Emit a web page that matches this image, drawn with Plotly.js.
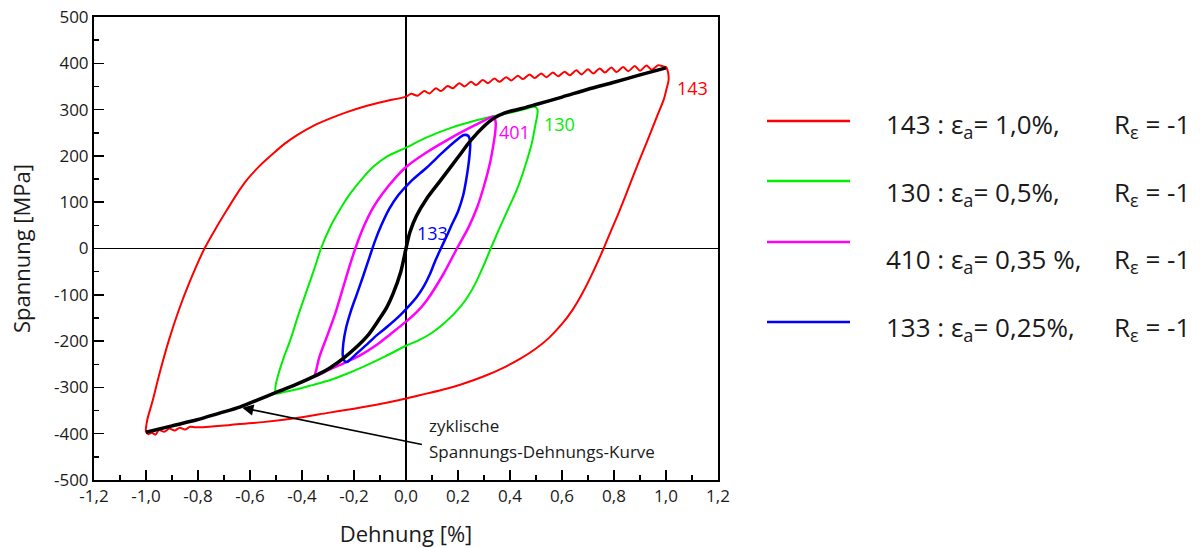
<!DOCTYPE html>
<html>
<head>
<meta charset="utf-8">
<script src="https://cdn.plot.ly/plotly-3.0.1.min.js"></script>
<style>
  html, body { margin: 0; padding: 0; background: #fff; }
  #chart { width: 1200px; height: 548px; }
</style>
</head>
<body>
<div id="chart"></div>
<script>
// Hysteresis loops (strain in %, stress in MPa)

// 143 : strain amplitude 1.0 %
const x143 = [-1.0, -0.995, -0.975, -0.948, -0.913, -0.875, -0.829, -0.775, -0.73, -0.689, -0.65, -0.612, -0.56, -0.509, -0.465,
  -0.419, -0.36, -0.291, -0.23, -0.163, -0.08,
  0.00, 0.02, 0.045, 0.07, 0.09, 0.115, 0.135, 0.16, 0.18, 0.205, 0.225, 0.25, 0.27, 0.295, 0.315, 0.34, 0.36, 0.385, 0.405, 0.43,
  0.45, 0.475, 0.495, 0.52, 0.54, 0.565, 0.585, 0.61, 0.63, 0.655, 0.675, 0.70, 0.72, 0.745, 0.765, 0.79, 0.81, 0.835, 0.855, 0.88,
  0.90, 0.925, 0.945, 0.97, 0.99, 1.0,
  1.008, 1.01, 1.0, 0.991, 0.965, 0.94, 0.914, 0.888, 0.863, 0.838, 0.812, 0.786, 0.76, 0.72, 0.68, 0.64, 0.60, 0.55, 0.50,
  0.44, 0.38, 0.30, 0.22, 0.14, 0.06, 0.0, -0.1, -0.2, -0.3, -0.42, -0.55, -0.676, -0.78,
  -0.81, -0.83, -0.85, -0.87, -0.89, -0.91, -0.93, -0.95, -0.964, -0.978, -0.99, -1.0];
const y143 = [-396, -370, -330, -270, -200, -135, -68, 0, 45, 83, 118, 148, 180, 206, 227,
  245, 264, 281, 294, 306, 318,
  328, 334, 330, 340, 335, 346, 340, 351, 346, 357, 350, 360, 353, 364, 357, 367, 360, 370, 363, 373,
  366, 376, 368, 378, 370, 380, 372, 382, 374, 385, 376, 387, 378, 389, 380, 391, 381, 392, 383, 394,
  384, 395, 386, 396, 393, 392,
  380, 364, 340, 321, 285, 249, 213, 177, 141, 105, 69, 35, 0, -50, -95, -133, -163, -193, -216,
  -238, -256, -276, -292, -305, -316, -324, -336, -346, -355, -366, -375, -381, -386,
  -386, -385, -391, -387, -393, -389, -396, -392, -402, -398, -401, -396];

// 130 : strain amplitude 0.5 %
const x130 = [-0.5, -0.502, -0.49, -0.47, -0.445, -0.415, -0.381, -0.352, -0.327, -0.291, -0.25, -0.214, -0.17, -0.125, -0.075,
  0.0, 0.08, 0.17, 0.264, 0.354, 0.43, 0.47, 0.495, 0.506, 0.504, 0.498, 0.485, 0.465, 0.43, 0.388, 0.355, 0.326, 0.3, 0.27,
  0.24, 0.209, 0.15, 0.1, 0.05, 0.0, -0.08, -0.163, -0.23, -0.291, -0.36, -0.419, -0.47, -0.5];
const y130 = [-313, -298, -270, -235, -198, -145, -90, -43, 0, 47, 88, 119, 150, 177, 198,
  218, 240, 260, 276, 288, 297, 303, 306, 300, 285, 268, 230, 190, 132, 79, 38, 0, -35, -72,
  -102, -126, -160, -182, -198, -210, -233, -255, -271, -284, -295, -304, -310, -313];

// 401 : strain amplitude 0.35 %
const x401 = [-0.35, -0.345, -0.333, -0.302, -0.272, -0.246, -0.221, -0.195, -0.163, -0.127, -0.09, -0.045, 0.0, 0.08, 0.17,
  0.25, 0.30, 0.337, 0.345, 0.343, 0.335, 0.324, 0.3, 0.273, 0.24, 0.196, 0.145, 0.081, 0.04, 0.0, -0.06, -0.112, -0.18, -0.24,
  -0.3, -0.35];
const y401 = [-276, -262, -234, -187, -140, -92, -45, 0, 47, 88, 119, 150, 176, 208, 238,
  262, 276, 285, 272, 250, 220, 187, 135, 88, 45, 0, -54, -111, -138, -158, -185, -208, -232, -248,
  -263, -276];

// 133 : strain amplitude 0.25 %
const x133 = [-0.235, -0.243, -0.241, -0.23, -0.212, -0.19, -0.165, -0.14, -0.118, -0.095, -0.065, -0.03, 0.017, 0.08, 0.14,
  0.19, 0.222, 0.24, 0.247, 0.245, 0.24, 0.232, 0.22, 0.2, 0.175, 0.155, 0.13, 0.11, 0.093, 0.07, 0.042, 0.01, -0.022, -0.07,
  -0.112, -0.15, -0.188, -0.215, -0.227, -0.235];
const y133 = [-244, -232, -205, -170, -135, -100, -60, -18, 18, 50, 85, 115, 144, 175, 207,
  232, 245, 243, 228, 205, 180, 150, 115, 80, 50, 25, -5, -30, -54, -80, -104, -125, -144, -168,
  -187, -207, -226, -240, -245, -244];

// cyclic stress-strain curve
const xCyc = [-1.0, -0.9, -0.804, -0.72, -0.637, -0.57, -0.5, -0.42, -0.342, -0.29, -0.24, -0.15, -0.1, -0.073, -0.05, -0.02,
  0.0, 0.015, 0.04, 0.08, 0.13, 0.2, 0.25, 0.3, 0.337, 0.38, 0.45, 0.5, 0.6, 0.7, 0.8, 0.9, 1.0];
const yCyc = [-397, -383, -370, -356, -342, -327, -311, -293, -273, -257, -237, -190, -150, -126, -98, -50,
  0, 35, 70, 108, 145, 197, 234, 264, 281, 293, 303, 311, 327, 344, 359, 375, 390];

// legend rows
const legendIds = ['143', '130', '410', '133'];
const legendAmps = ['1,0%,', '0,5%,', '0,35 %,', '0,25%,'];
const legendColors = ['#ff0000', '#00ee00', '#ff00ff', '#0000ff'];

// axis ticks
const xTickVals = [-1.2, -1.0, -0.8, -0.6, -0.4, -0.2, 0.0, 0.2, 0.4, 0.6, 0.8, 1.0, 1.2];
const xTickText = ['-1,2', '-1,0', '-0,8', '-0,6', '-0,4', '-0,2', '0,0', '0,2', '0,4', '0,6', '0,8', '1,0', '1,2'];
const yTickVals = [-500, -400, -300, -200, -100, 0, 100, 200, 300, 400, 500];
const yTickText = ['-500', '-400', '-300', '-200', '-100', '0', '100', '200', '300', '400', '500'];

const FONT = '"Open Sans", "Noto Sans", sans-serif';
const TXT = '#1a1a1a';

function loop(x, y, color, width) {
  return { x: x, y: y, mode: 'lines', type: 'scatter', showlegend: false, hoverinfo: 'skip',
    line: { color: color, width: width, shape: 'spline', smoothing: 0.8 } };
}

const traces = [
  loop(x143, y143, '#ff0000', 2),
  loop(x130, y130, '#00ee00', 2),
  loop(x401, y401, '#ff00ff', 2.5),
  loop(x133, y133, '#0000ff', 2.5),
  loop(xCyc, yCyc, '#000000', 3.5)
];

// plot-area geometry in pixels, used for placing the legend in paper units
const L = 94, R = 718, T = 17, B = 480;
const px = v => (v - L) / (R - L);
const py = v => (B - v) / (B - T);

const legendLineY = [121, 181, 242, 322];
const legendTextY = [125, 193, 260, 328];

const shapes = [];
const annotations = [];
legendIds.forEach((id, i) => {
  shapes.push({ type: 'line', xref: 'paper', yref: 'paper', x0: px(767), x1: px(850),
    y0: py(legendLineY[i]), y1: py(legendLineY[i]), line: { color: legendColors[i], width: 2.5 } });
  annotations.push({ xref: 'paper', yref: 'paper', x: px(884), y: py(legendTextY[i]), xanchor: 'left', yanchor: 'middle',
    showarrow: false, text: id + ' : ε<sub>a</sub>= ' + legendAmps[i], font: { family: FONT, size: 26, color: TXT } });
  annotations.push({ xref: 'paper', yref: 'paper', x: px(1192), y: py(legendTextY[i]), xanchor: 'right', yanchor: 'middle',
    showarrow: false, text: 'R<sub>ε</sub> = -1', font: { family: FONT, size: 26, color: TXT } });
});

// curve labels
annotations.push({ x: 1.035, y: 347, xanchor: 'left', yanchor: 'middle', showarrow: false, text: '143',
  font: { family: FONT, size: 18, color: '#ff0000' } });
annotations.push({ x: 0.522, y: 268, xanchor: 'left', yanchor: 'middle', showarrow: false, text: '130',
  font: { family: FONT, size: 18, color: '#00ee00' } });
annotations.push({ x: 0.349, y: 251, xanchor: 'left', yanchor: 'middle', showarrow: false, text: '401',
  font: { family: FONT, size: 18, color: '#ff00ff' } });
annotations.push({ x: 0.034, y: 33, xanchor: 'left', yanchor: 'middle', showarrow: false, text: '133',
  font: { family: FONT, size: 18, color: '#0000ff' } });

// arrow pointing at the cyclic curve, with its caption
annotations.push({ x: -0.63, y: -344, ax: 0.067, ay: -424, axref: 'x', ayref: 'y', text: '',
  showarrow: true, arrowhead: 2, arrowsize: 1.4, arrowwidth: 1.6, arrowcolor: '#000' });
annotations.push({ x: 0.08, y: -382, xanchor: 'left', yanchor: 'middle', showarrow: false, text: 'zyklische',
  font: { family: FONT, size: 17, color: TXT } });
annotations.push({ x: 0.08, y: -439, xanchor: 'left', yanchor: 'middle', showarrow: false, text: 'Spannungs-Dehnungs-Kurve',
  font: { family: FONT, size: 17, color: TXT } });

const axisCommon = {
  showgrid: false, zeroline: true, zerolinecolor: '#000', zerolinewidth: 1.5,
  showline: true, linecolor: '#000', linewidth: 2, mirror: true,
  ticks: 'inside', ticklen: 10, tickwidth: 1.5, tickcolor: '#000',
  tickfont: { family: FONT, size: 17, color: TXT },
  automargin: false, fixedrange: true
};

const layout = {
  width: 1200, height: 548,
  margin: { l: L, r: 1200 - R, t: T, b: 548 - B },
  paper_bgcolor: '#fff', plot_bgcolor: '#fff',
  showlegend: false,
  xaxis: Object.assign({}, axisCommon, {
    range: [-1.2, 1.2], tickmode: 'array', tickvals: xTickVals, ticktext: xTickText,
    minor: { ticks: 'inside', ticklen: 5, tickwidth: 1.5, tickcolor: '#000', dtick: 0.1, tick0: 0 },
    title: { text: 'Dehnung [%]', font: { family: FONT, size: 22, color: TXT }, standoff: 20 }
  }),
  yaxis: Object.assign({}, axisCommon, {
    range: [-500, 500], tickmode: 'array', tickvals: yTickVals, ticktext: yTickText,
    minor: { ticks: 'inside', ticklen: 5, tickwidth: 1.5, tickcolor: '#000', dtick: 50, tick0: 0 },
    title: { text: 'Spannung [MPa]', font: { family: FONT, size: 22, color: TXT }, standoff: 17 }
  }),
  shapes: shapes,
  annotations: annotations
};

Plotly.newPlot('chart', traces, layout, { displayModeBar: false, staticPlot: true });
</script>
</body>
</html>
